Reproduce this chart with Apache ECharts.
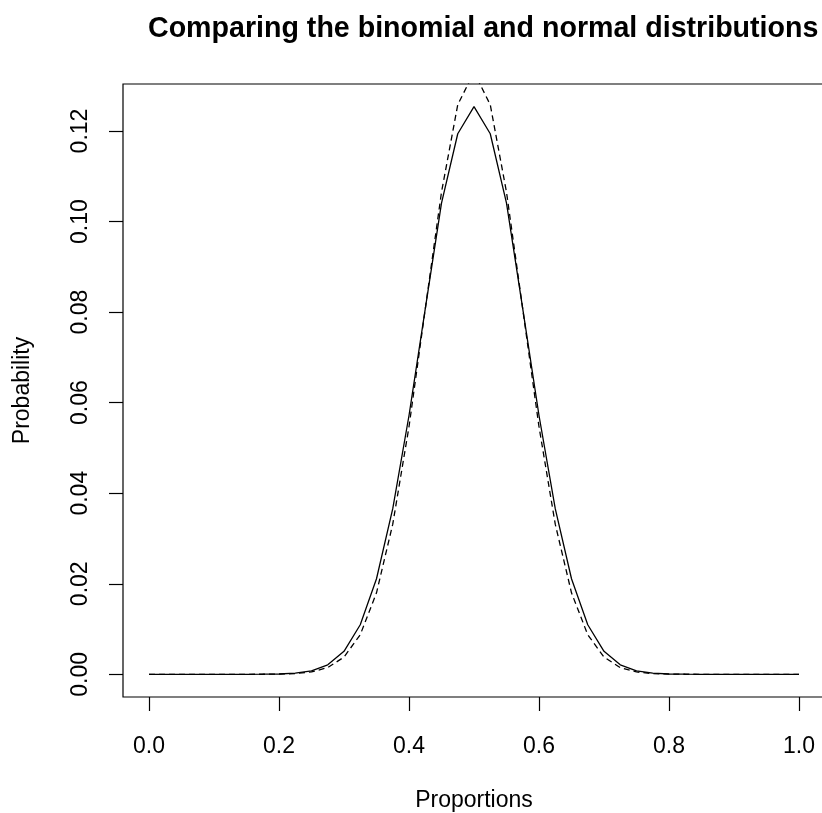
<!DOCTYPE html>
<html>
<head>
<meta charset="utf-8">
<script src="https://cdn.jsdelivr.net/npm/echarts@6/dist/echarts.min.js"></script>
<style>html,body{margin:0;padding:0;background:#fff;}#c{width:822px;height:813px;}</style>
</head>
<body>
<div id="c"></div>
<script>
var proportions = [0,0.025,0.05,0.075,0.1,0.125,0.15,0.175,0.2,0.225,0.25,0.275,0.3,0.325,0.35,0.375,0.4,0.425,0.45,0.475,0.5,0.525,0.55,0.575,0.6,0.625,0.65,0.675,0.7,0.725,0.75,0.775,0.8,0.825,0.85,0.875,0.9,0.925,0.95,0.975,1];
var binomial = [0,0,0,0,0,0.0000006,0.0000035,0.000017,0.00007,0.000249,0.000771,0.002103,0.005081,0.010944,0.021107,0.036585,0.057164,0.080701,0.104092,0.119402,0.125371,0.119402,0.104092,0.080701,0.057164,0.036585,0.021107,0.010944,0.005081,0.002103,0.000771,0.000249,0.00007,0.000017,0.0000035,0.0000006,0,0,0,0,0];
var normal = [0,0,0,0,0,0.0000004,0.0000025,0.000011,0.000045,0.00016,0.000514,0.001477,0.0038,0.00874,0.018,0.03316,0.05468,0.08067,0.1065,0.12581,0.133,0.12581,0.1065,0.08067,0.05468,0.03316,0.018,0.00874,0.0038,0.001477,0.000514,0.00016,0.000045,0.000011,0.0000025,0.0000004,0,0,0,0,0];
var xTicks = [0,0.2,0.4,0.6,0.8,1];
var yTicks = [0,0.02,0.04,0.06,0.08,0.1,0.12];

var FONT = '"Liberation Sans", Arial, Helvetica, sans-serif';
var chart = echarts.init(document.getElementById('c'), null, {renderer:'canvas'});
function pairs(ys){ return proportions.map(function(x,i){return [x, ys[i]];}); }
var yMax = 0.125371;
chart.setOption({
  animation:false,
  backgroundColor:'#fff',
  title:{
    text:'Comparing the binomial and normal distributions',
    left:148, top:15, padding:0,
    textStyle:{fontFamily:FONT, fontWeight:'bold', fontSize:28.6, color:'#000'}
  },
  grid:{left:123, top:84, right:-3, bottom:116, show:true, borderColor:'#000', borderWidth:1.2,
        backgroundColor:'transparent', containLabel:false, outerBoundsMode:'none'},
  xAxis:{
    type:'value', min:-0.04, max:1.04,
    name:'Proportions', nameLocation:'middle', nameGap:92,
    nameTextStyle:{fontFamily:FONT, fontSize:23, color:'#000'},
    axisLine:{show:false, onZero:false},
    splitLine:{show:false},
    axisTick:{show:true, inside:false, length:14, customValues:xTicks, lineStyle:{color:'#000', width:1.2}},
    axisLabel:{show:true, customValues:xTicks, margin:38, fontFamily:FONT, fontSize:23, color:'#000',
      formatter:function(v){return v.toFixed(1);}}
  },
  yAxis:{
    type:'value', min:-0.04*yMax, max:1.04*yMax,
    name:'Probability', nameLocation:'middle', nameGap:89,
    nameTextStyle:{fontFamily:FONT, fontSize:23, color:'#000'},
    axisLine:{show:false, onZero:false},
    splitLine:{show:false},
    axisTick:{show:true, inside:false, length:14, customValues:yTicks, lineStyle:{color:'#000', width:1.2}},
    axisLabel:{show:true, customValues:yTicks, rotate:90, margin:31, fontFamily:FONT, fontSize:23, color:'#000',
      formatter:function(v){return v.toFixed(2);}}
  },
  series:[
    {type:'line', name:'Binomial', data:pairs(binomial), symbol:'none', clip:true,
     lineStyle:{color:'#000', width:1.3, type:'solid'}},
    {type:'line', name:'Normal', data:pairs(normal), symbol:'none', clip:true,
     lineStyle:{color:'#000', width:1.3, type:[6,4]}}
  ]
});
</script>
</body>
</html>
